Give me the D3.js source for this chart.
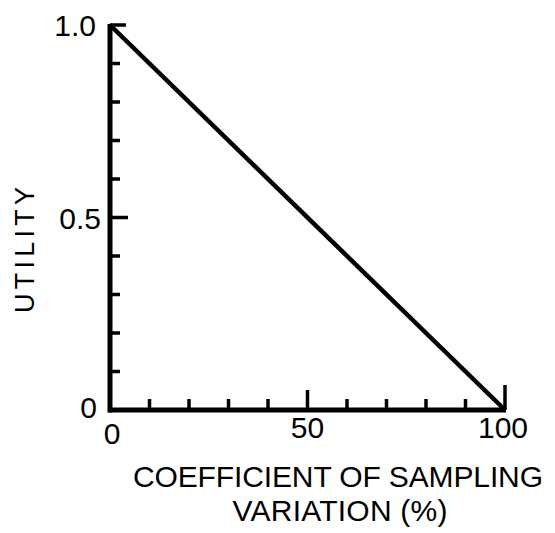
<!DOCTYPE html>
<html>
<head>
<meta charset="utf-8">
<script src="https://cdn.jsdelivr.net/npm/d3@7"></script>
<style>
  html, body { margin: 0; padding: 0; background: #fff; }
  svg { display: block; }
  text { font-family: "Liberation Sans", Arial, sans-serif; fill: #000; }
</style>
</head>
<body>
<svg id="chart" width="555" height="533"></svg>
<script>
// ---- data ----
const xValues = [0, 100];          // coefficient of sampling variation (%)
const yValues = [1.0, 0.0];        // utility
const xTicks = [10, 20, 30, 40, 50, 60, 70, 80, 90, 100];
const yTicks = [0.1, 0.2, 0.3, 0.4, 0.5, 0.6, 0.7, 0.8, 0.9, 1.0];
const xTickLabels = [0, 50, 100];
const yTickLabels = ["0", "0.5", "1.0"];
const yTickLabelValues = [0, 0.5, 1.0];
const xTitle = ["COEFFICIENT OF SAMPLING", "VARIATION (%)"];
const yTitle = "UTILITY";

// ---- layout ----
const svg = d3.select("#chart");
const x = d3.scaleLinear().domain([0, 100]).range([110, 505]);
const y = d3.scaleLinear().domain([0, 1]).range([410, 25]);

// axes lines
svg.append("line")
  .attr("x1", x(0)).attr("x2", x(0))
  .attr("y1", y(1) - 1).attr("y2", y(0) + 2.5)
  .attr("stroke", "#000").attr("stroke-width", 5);
svg.append("line")
  .attr("x1", x(0) - 2).attr("x2", x(100) + 1)
  .attr("y1", y(0)).attr("y2", y(0))
  .attr("stroke", "#000").attr("stroke-width", 5);

// x ticks (pointing up)
const xTickLen = v => v === 100 ? 25 : (v === 50 ? 20 : 11);
svg.append("g").selectAll("line").data(xTicks).join("line")
  .attr("x1", d => x(d)).attr("x2", d => x(d))
  .attr("y1", y(0)).attr("y2", d => y(0) - xTickLen(d))
  .attr("stroke", "#000").attr("stroke-width", 3.5);

// y ticks (pointing right)
const yTickLen = v => v === 1 ? 16 : (v === 0.5 ? 18 : 10);
svg.append("g").selectAll("line").data(yTicks).join("line")
  .attr("x1", x(0)).attr("x2", d => x(0) + yTickLen(d))
  .attr("y1", d => y(d)).attr("y2", d => y(d))
  .attr("stroke", "#000").attr("stroke-width", 3.5);

// data line
svg.append("path")
  .datum(xValues.map((v, i) => [v, yValues[i]]))
  .attr("d", d3.line().x(d => x(d[0])).y(d => y(d[1])))
  .attr("fill", "none").attr("stroke", "#000").attr("stroke-width", 4.5);

// x tick labels
svg.append("g").selectAll("text").data(xTickLabels).join("text")
  .attr("x", d => x(d) + (d === 0 ? 2 : (d === 100 ? -2 : 0)))
  .attr("y", d => d === 0 ? 444 : 438)
  .attr("text-anchor", "middle")
  .attr("font-size", 30)
  .text(d => d);

// y tick labels
svg.append("g").selectAll("text").data(yTickLabels).join("text")
  .attr("x", (d, i) => yTickLabelValues[i] === 0 ? 97 : (yTickLabelValues[i] === 1 ? 96 : 101))
  .attr("y", (d, i) => y(yTickLabelValues[i]) + (yTickLabelValues[i] === 0 ? 8 : 11))
  .attr("text-anchor", "end")
  .attr("font-size", 30)
  .text(d => d);

// y title
svg.append("text")
  .attr("transform", "translate(34,250) rotate(-90)")
  .attr("text-anchor", "middle")
  .attr("font-size", 27)
  .attr("textLength", 126)
  .attr("lengthAdjust", "spacing")
  .text(yTitle);

// x title
svg.append("text")
  .attr("x", 338).attr("y", 487)
  .attr("text-anchor", "middle")
  .attr("font-size", 30)
  .attr("textLength", 410)
  .attr("lengthAdjust", "spacing")
  .text(xTitle[0]);
svg.append("text")
  .attr("x", 340).attr("y", 521)
  .attr("text-anchor", "middle")
  .attr("font-size", 30)
  .attr("textLength", 215)
  .attr("lengthAdjust", "spacing")
  .text(xTitle[1]);
</script>
</body>
</html>
